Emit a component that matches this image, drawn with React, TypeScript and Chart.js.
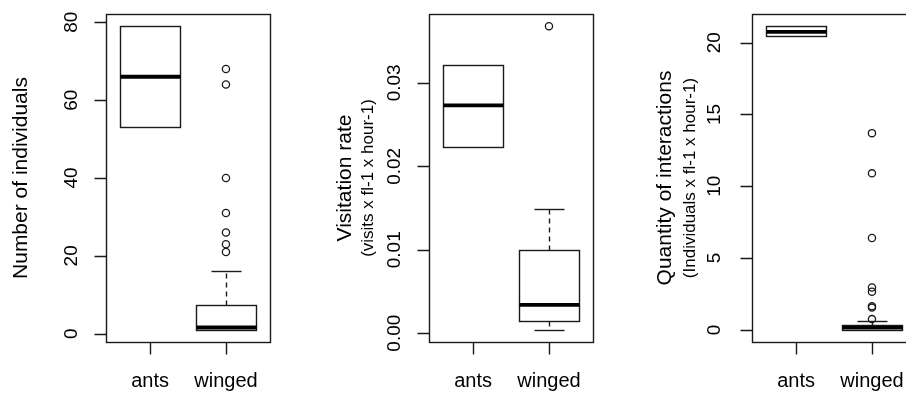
import { useEffect, useRef } from "react";
import { Chart, registerables } from "chart.js";

Chart.register(...registerables);

// ---------------- data ----------------
const categories = ["ants", "winged"];

// five-number summaries: [lower whisker, q1, median, q3, upper whisker]
const individualsAnts = [53, 53, 66, 79, 79];
const individualsWinged = [1, 1, 1.6, 7.5, 16];
const individualsOutliers = [68, 64, 40, 31, 26, 23, 21];
const individualsTicks = [0, 20, 40, 60, 80];
const individualsTickLabels = ["0", "20", "40", "60", "80"];

const visitationAnts = [0.0223, 0.0223, 0.0273, 0.0322, 0.0322];
const visitationWinged = [0.0004, 0.0015, 0.0034, 0.01, 0.0149];
const visitationOutliers = [0.0368];
const visitationTicks = [0, 0.01, 0.02, 0.03];
const visitationTickLabels = ["0.00", "0.01", "0.02", "0.03"];

const interactionsAnts = [20.45, 20.45, 20.75, 21.15, 21.15];
const interactionsWinged = [0, 0, 0.15, 0.35, 0.6];
const interactionsOutliers = [13.7, 10.9, 6.4, 2.95, 2.65, 1.65, 1.55, 0.75];
const interactionsTicks = [0, 5, 10, 15, 20];
const interactionsTickLabels = ["0", "5", "10", "15", "20"];

type Panel = {
  stats: number[][];
  outliers: number[];
  ticks: number[];
  tickLabels: string[];
  title: string;
  subtitle?: string;
  titleX: number;
  subtitleX: number;
  tickLabelX: number;
};

const panels: Panel[] = [
  {
    stats: [individualsAnts, individualsWinged],
    outliers: individualsOutliers,
    ticks: individualsTicks,
    tickLabels: individualsTickLabels,
    title: "Number of individuals",
    titleX: 27,
    subtitleX: 0,
    tickLabelX: 77,
  },
  {
    stats: [visitationAnts, visitationWinged],
    outliers: visitationOutliers,
    ticks: visitationTicks,
    tickLabels: visitationTickLabels,
    title: "Visitation rate",
    subtitle: "(visits x fl-1 x hour-1)",
    titleX: 28,
    subtitleX: 50,
    tickLabelX: 77,
  },
  {
    stats: [interactionsAnts, interactionsWinged],
    outliers: interactionsOutliers,
    ticks: interactionsTicks,
    tickLabels: interactionsTickLabels,
    title: "Quantity of interactions",
    subtitle: "(Individuals x fl-1 x hour-1)",
    titleX: 25,
    subtitleX: 49,
    tickLabelX: 74,
  },
];

const FONT = "'Liberation Sans', Arial, sans-serif";
const PANEL_W = 323;
const PANEL_H = 393;
const LINE = "#1a1a1a";
const LW = 1.4;

function PanelChart({ panel, left }: { panel: Panel; left: number }) {
  const ref = useRef<HTMLCanvasElement | null>(null);

  useEffect(() => {
    const canvas = ref.current;
    if (!canvas) return;

    const all: number[] = [];
    panel.stats.forEach((s) => all.push(...s));
    all.push(...panel.outliers);
    const lo = Math.min(...all);
    const hi = Math.max(...all);
    const ext = (hi - lo) * 0.04;

    const boxPlugin = {
      id: "rbox",
      beforeDatasetsDraw(chart: any) {
        const ctx: CanvasRenderingContext2D = chart.ctx;
        const xs = chart.scales.x;
        const ys = chart.scales.y;
        const snap = (v: number) => Math.round(v) + 0.5;
        ctx.save();
        ctx.strokeStyle = LINE;
        ctx.lineCap = "butt";
        panel.stats.forEach((s, i) => {
          const c = i + 1;
          const [wl, q1, med, q3, wh] = s;
          const xc = snap(xs.getPixelForValue(c));
          const xl = snap(xs.getPixelForValue(c - 0.4));
          const xr = snap(xs.getPixelForValue(c + 0.4));
          const cl = snap(xs.getPixelForValue(c - 0.2));
          const cr = snap(xs.getPixelForValue(c + 0.2));
          const yq1 = snap(ys.getPixelForValue(q1));
          const yq3 = snap(ys.getPixelForValue(q3));
          const ywl = snap(ys.getPixelForValue(wl));
          const ywh = snap(ys.getPixelForValue(wh));
          const ymed = ys.getPixelForValue(med);
          ctx.lineWidth = LW;
          // whiskers + staples (only where they extend beyond the box)
          if (wh > q3) {
            ctx.setLineDash([5, 4]);
            ctx.beginPath();
            ctx.moveTo(xc, yq3);
            ctx.lineTo(xc, ywh);
            ctx.stroke();
            ctx.setLineDash([]);
            ctx.beginPath();
            ctx.moveTo(cl, ywh);
            ctx.lineTo(cr, ywh);
            ctx.stroke();
          }
          if (wl < q1) {
            ctx.setLineDash([5, 4]);
            ctx.beginPath();
            ctx.moveTo(xc, yq1);
            ctx.lineTo(xc, ywl);
            ctx.stroke();
            ctx.setLineDash([]);
            ctx.beginPath();
            ctx.moveTo(cl, ywl);
            ctx.lineTo(cr, ywl);
            ctx.stroke();
          }
          // box
          ctx.strokeRect(xl, yq3, xr - xl, yq1 - yq3);
          // median
          ctx.strokeStyle = "#000";
          ctx.lineWidth = 3.8;
          ctx.beginPath();
          ctx.moveTo(xl, ymed);
          ctx.lineTo(xr, ymed);
          ctx.stroke();
          ctx.strokeStyle = LINE;
        });
        ctx.restore();
      },
      afterDraw(chart: any) {
        const ctx: CanvasRenderingContext2D = chart.ctx;
        const xs = chart.scales.x;
        const ys = chart.scales.y;
        const a = chart.chartArea;
        const snap = (v: number) => Math.round(v) + 0.5;
        ctx.save();
        ctx.strokeStyle = LINE;
        ctx.fillStyle = "#000";
        ctx.lineWidth = LW;
        // frame
        ctx.strokeRect(snap(a.left), snap(a.top), Math.round(a.right - a.left), Math.round(a.bottom - a.top));
        // y ticks
        ctx.beginPath();
        panel.ticks.forEach((t) => {
          const y = snap(ys.getPixelForValue(t));
          ctx.moveTo(snap(a.left), y);
          ctx.lineTo(snap(a.left) - 12, y);
        });
        // x ticks
        categories.forEach((_, i) => {
          const x = snap(xs.getPixelForValue(i + 1));
          ctx.moveTo(x, snap(a.bottom));
          ctx.lineTo(x, snap(a.bottom) + 12);
        });
        ctx.stroke();
        // y tick labels (rotated)
        ctx.font = `19px ${FONT}`;
        ctx.textAlign = "center";
        ctx.textBaseline = "alphabetic";
        panel.ticks.forEach((t, i) => {
          const y = ys.getPixelForValue(t);
          ctx.save();
          ctx.translate(panel.tickLabelX, y);
          ctx.rotate(-Math.PI / 2);
          ctx.fillText(panel.tickLabels[i], 0, 0);
          ctx.restore();
        });
        // x labels
        ctx.font = `20px ${FONT}`;
        categories.forEach((lab, i) => {
          ctx.fillText(lab, xs.getPixelForValue(i + 1), 387);
        });
        // titles
        const yc = (a.top + a.bottom) / 2;
        ctx.save();
        ctx.translate(panel.titleX, yc);
        ctx.rotate(-Math.PI / 2);
        ctx.font = `21px ${FONT}`;
        ctx.fillText(panel.title, 0, 0);
        ctx.restore();
        if (panel.subtitle) {
          ctx.save();
          ctx.translate(panel.subtitleX, yc);
          ctx.rotate(-Math.PI / 2);
          ctx.font = `17px ${FONT}`;
          ctx.fillText(panel.subtitle, 0, 0);
          ctx.restore();
        }
        ctx.restore();
      },
    };

    const chart = new Chart(canvas, {
      type: "scatter",
      data: {
        datasets: [
          {
            data: panel.outliers.map((v) => ({ x: 2, y: v })),
            pointStyle: "circle",
            pointRadius: 3.6,
            pointBorderWidth: 1.3,
            borderColor: LINE,
            backgroundColor: "rgba(0,0,0,0)",
          },
        ],
      },
      options: {
        responsive: false,
        animation: false,
        events: [],
        layout: { padding: { left: 106, right: 53, top: 14, bottom: 51 } },
        scales: {
          x: { type: "linear", display: false, min: 0.42, max: 2.58 },
          y: { type: "linear", display: false, min: lo - ext, max: hi + ext },
        },
        plugins: {
          legend: { display: false },
          tooltip: { enabled: false },
        },
      },
      plugins: [boxPlugin],
    } as any);

    return () => chart.destroy();
  }, [panel]);

  return (
    <canvas
      ref={ref}
      width={PANEL_W}
      height={PANEL_H}
      style={{ position: "absolute", left, top: 0, width: PANEL_W, height: PANEL_H }}
    />
  );
}

export default function App() {
  return (
    <div
      style={{
        position: "fixed",
        left: 0,
        top: 0,
        width: 906,
        height: 393,
        overflow: "hidden",
        background: "#fff",
      }}
    >
      {panels.map((p, i) => (
        <PanelChart key={i} panel={p} left={i * PANEL_W} />
      ))}
    </div>
  );
}
